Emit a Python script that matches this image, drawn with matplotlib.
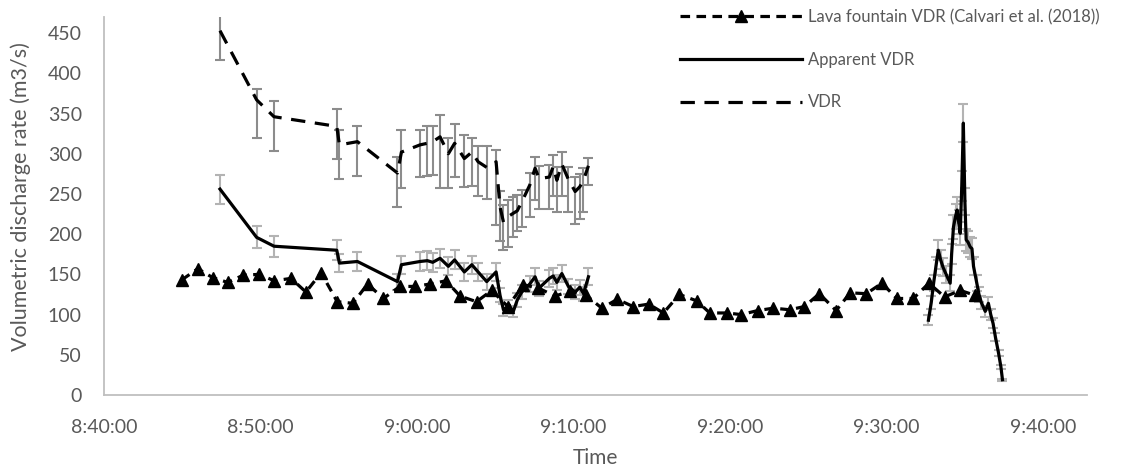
import matplotlib
matplotlib.use("Agg")
import matplotlib.pyplot as plt
import numpy as np
from matplotlib.ticker import MultipleLocator, FuncFormatter
from matplotlib.lines import Line2D

plt.rcParams['font.family'] = ['Lato', 'DejaVu Sans']

# ---- data (times in minutes after 8:40:00) ----
lava_t = [4.96, 5.99, 6.94, 7.90, 8.90, 9.92, 10.88, 11.95, 12.90, 13.87,
          14.90, 15.90, 16.84, 17.85, 18.90, 19.87, 20.83, 21.85, 22.75, 23.80,
          24.77, 25.80, 26.80, 27.75, 28.80, 29.80, 30.80, 31.80, 32.80, 33.80,
          34.80, 35.74, 36.76, 37.87, 38.70, 39.80, 40.70, 41.77, 42.77, 43.80,
          44.75, 45.70, 46.77, 47.67, 48.70, 49.70, 50.65, 51.70, 52.70, 53.70,
          54.70, 55.65]
lava_v = [143, 157, 146, 140, 149, 150, 142, 145, 128, 152,
          116, 114, 138, 120, 135, 135, 138, 142, 123, 116,
          130, 110, 137, 133, 123, 129, 124, 108, 119, 110,
          113, 102, 125, 117, 102, 102, 100, 105, 108, 106,
          110, 126, 105, 127, 126, 139, 120, 120, 139, 122,
          130, 124]

vdr_t = [7.41, 9.75, 10.86, 14.87, 15.04, 16.19, 18.75, 19.00, 20.19, 20.66,
         21.00, 21.47, 22.00, 22.40, 23.02, 23.50, 23.90, 24.45, 25.05, 25.30,
         25.52, 25.83, 26.15, 26.40, 26.69, 27.20, 27.54, 27.80, 28.45, 28.70,
         28.93, 29.25, 29.67, 30.10, 30.40, 30.63, 30.95]
vdr_v = [453, 367, 346, 334, 311, 315, 276, 302, 311, 313,
         315, 321, 300, 313, 294, 302, 290, 283, 290, 234,
         215, 222, 226, 229, 240, 261, 282, 269, 271, 284,
         267, 287, 268, 253, 259, 267, 285]
vdr_err_hi = [30, 14, 19, 21, 19, 19, 20, 27, 18, 22,
              20, 27, 19, 24, 29, 17, 20, 26, 15, 20,
              21, 20, 20, 20, 15, 15, 14, 16, 15, 14,
              16, 15, 16, 18, 16, 15, 10]
vdr_err_lo = [37, 47, 42, 41, 42, 43, 42, 44, 40, 41,
              42, 63, 42, 42, 35, 42, 42, 39, 79, 42,
              35, 38, 30, 25, 31, 40, 40, 38, 40, 36,
              40, 40, 40, 40, 40, 40, 24]

# Apparent VDR, first part (same times as VDR) and the peak part
app1_t = vdr_t
app1_v = [256, 196, 185, 180, 164, 166, 141, 162, 166, 167,
          165, 170, 160, 168, 153, 162, 153, 141, 153, 124,
          106, 110, 104, 118, 128, 138, 147, 133, 145, 148,
          140, 151, 135, 128, 134, 126, 147]
app2_t = [52.67, 52.85, 53.00, 53.15, 53.30, 53.45, 53.60, 53.80, 54.06, 54.15,
          54.27, 54.40, 54.50, 54.60, 54.70, 54.80, 54.90, 55.00, 55.08, 55.20,
          55.34, 55.45, 55.55, 55.76, 55.90, 56.05, 56.30, 56.50, 56.65, 56.80,
          56.95, 57.15, 57.30, 57.40]
app2_v = [93, 115, 139, 160, 180, 168, 159, 150, 139, 175,
          209, 222, 230, 215, 201, 260, 338, 240, 193, 190,
          184, 182, 160, 139, 125, 115, 104, 114, 100, 89,
          72, 52, 35, 19]
app_err_pct = 0.07

legend_labels = ["Lava fountain VDR (Calvari et al. (2018))", "Apparent VDR", "VDR"]

# ---- figure ----
fig = plt.figure(figsize=(11.36, 4.70), dpi=100)
ax = fig.add_axes([104/1136, 75/470, 983/1136, 378/470])

text_col = '#595959'
axis_col = '#bfbfbf'

# error bars
ax.errorbar(vdr_t, vdr_v, yerr=[vdr_err_lo, vdr_err_hi], fmt='none',
            ecolor='#8c8c8c', elinewidth=1.5, capsize=3.5, capthick=1.5, zorder=1)
app_t_all = list(app1_t) + list(app2_t)
app_v_all = list(app1_v) + list(app2_v)
app_err = [v * app_err_pct for v in app_v_all]
ax.errorbar(app_t_all, app_v_all, yerr=app_err, fmt='none',
            ecolor='#b3b3b3', elinewidth=1.5, capsize=3.5, capthick=1.5, zorder=1)

# lines
lw = 2.3
ax.plot(vdr_t, vdr_v, color='black', lw=lw, ls=(0, (4.5, 3)), zorder=3)
ax.plot(app1_t, app1_v, color='black', lw=lw, ls='-', zorder=3, solid_joinstyle='round')
ax.plot(app2_t, app2_v, color='black', lw=lw, ls='-', zorder=3, solid_joinstyle='round')
ax.plot(lava_t, lava_v, color='black', lw=lw, ls=(0, (3, 2)), marker='^',
        markersize=9, zorder=4)

# axes styling
ax.set_xlim(0, 62.8)
ax.set_ylim(0, 470)
ax.xaxis.set_major_locator(MultipleLocator(10))

def fmt_time(m, pos):
    total = int(round(m)) + 40
    h = 8 + total // 60
    mm = total % 60
    return f"{h}:{mm:02d}:00"

ax.xaxis.set_major_formatter(FuncFormatter(fmt_time))
ax.set_yticks(np.arange(0, 451, 50))
for s in ['top', 'right']:
    ax.spines[s].set_visible(False)
for s in ['left', 'bottom']:
    ax.spines[s].set_color(axis_col)
    ax.spines[s].set_linewidth(1.3)
ax.tick_params(axis='both', length=0, labelsize=14, labelcolor=text_col)
ax.tick_params(axis='y', pad=16)
ax.tick_params(axis='x', pad=17)

ax.set_xlabel("Time", fontsize=15, color=text_col)
ax.set_ylabel("Volumetric discharge rate (m3/s)", fontsize=15.5, color=text_col)
ax.yaxis.set_label_coords(-0.074, 0.524)
ax.xaxis.set_label_coords(0.5, -0.14)

handles = [
    Line2D([], [], color='black', lw=lw, ls=(0, (3, 2)), marker='^', markersize=9),
    Line2D([], [], color='black', lw=lw, ls='-'),
    Line2D([], [], color='black', lw=lw, ls=(0, (4.5, 3))),
]
leg = fig.legend(handles, legend_labels, loc='upper left',
                 bbox_to_anchor=(680/1136, 1 - 9/470), frameon=False,
                 fontsize=12, handlelength=7.3, handletextpad=0.35,
                 labelspacing=1.6, borderpad=0, borderaxespad=0)
for t in leg.get_texts():
    t.set_color(text_col)

fig.savefig("out.png", dpi=100)
